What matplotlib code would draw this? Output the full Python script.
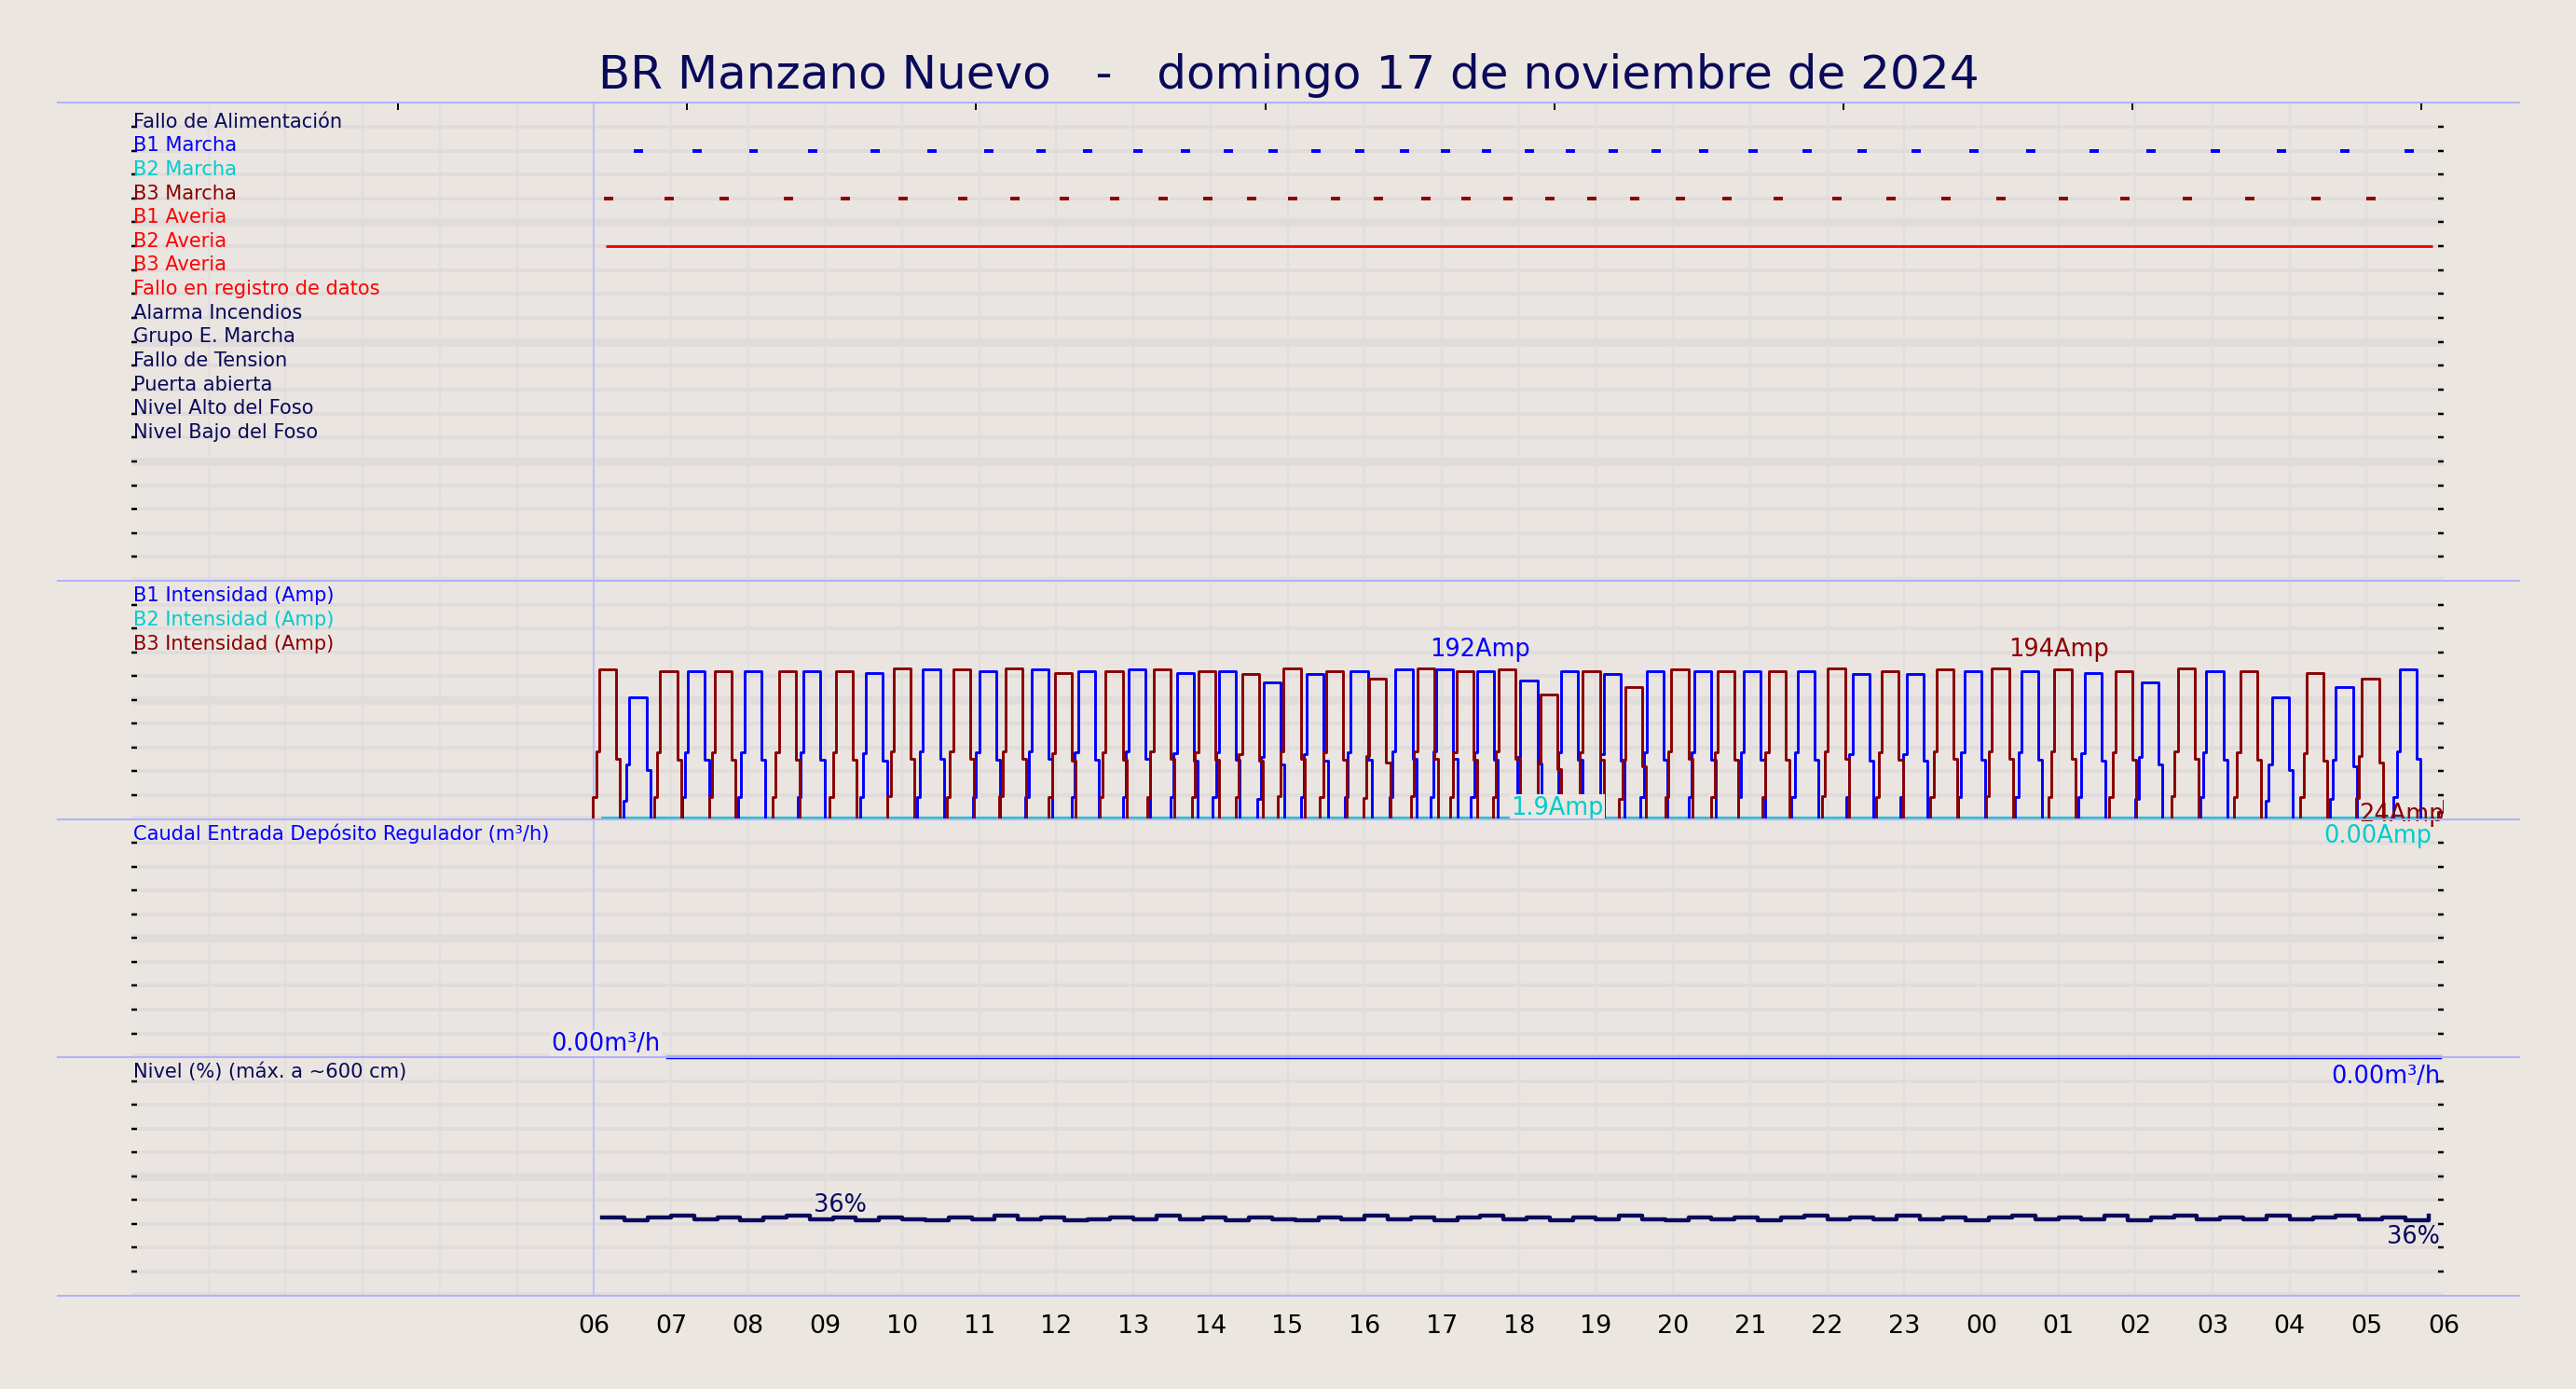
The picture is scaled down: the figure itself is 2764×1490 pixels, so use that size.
import numpy as np
import matplotlib.pyplot as plt

# ---- data (hours since 00:00 of the day, 24 = midnight) ----
title = "BR Manzano Nuevo   -   domingo 17 de noviembre de 2024"

signal_labels = ["Fallo de Alimentación", "B1 Marcha", "B2 Marcha", "B3 Marcha",
                 "B1 Averia", "B2 Averia", "B3 Averia", "Fallo en registro de datos",
                 "Alarma Incendios", "Grupo E. Marcha", "Fallo de Tension",
                 "Puerta abierta", "Nivel Alto del Foso", "Nivel Bajo del Foso"]
signal_colors = ["#0a0a5a", "#0000ff", "#00cccc", "#8b0000", "#ff0000", "#ff0000",
                 "#ff0000", "#ff0000", "#0a0a5a", "#0a0a5a", "#0a0a5a", "#0a0a5a",
                 "#0a0a5a", "#0a0a5a"]

b1_starts = [6.58, 7.34, 8.07, 8.84, 9.65, 10.39, 11.12, 11.80, 12.40, 13.06, 13.68, 14.23,
             14.81, 15.37, 15.94, 16.52, 17.05, 17.58, 18.14, 18.67, 19.22, 19.78, 20.40,
             21.04, 21.74, 22.45, 23.15, 23.90, 24.64, 25.46, 26.20, 27.04, 27.89, 28.72, 29.55]
b1_peaks = [156, 190, 190, 190, 188, 192, 190, 192, 190, 192, 188, 190,
            176, 186, 190, 192, 192, 190, 178, 190, 186, 190, 190,
            190, 190, 186, 186, 190, 190, 188, 176, 190, 156, 170, 192]
b3_starts = [6.19, 6.98, 7.69, 8.52, 9.26, 10.01, 10.78, 11.46, 12.10, 12.76, 13.38, 13.96,
             14.53, 15.07, 15.62, 16.18, 16.80, 17.31, 17.86, 18.40, 18.95, 19.50, 20.10,
             20.70, 21.36, 22.13, 22.83, 23.54, 24.26, 25.07, 25.86, 26.67, 27.48, 28.34, 29.06]
b3_peaks = [192, 190, 190, 190, 190, 194, 192, 194, 188, 190, 192, 190,
            186, 194, 190, 180, 194, 190, 192, 160, 190, 170, 192,
            190, 190, 194, 190, 192, 194, 192, 190, 194, 190, 188, 180]
b3_last = 24
b2_value = 1.9
averia_b2 = (6.15, 29.85)

flow_value = 0.0

level_times = np.arange(6.1, 29.95, 0.3)
level_values = [35, 33.5, 35, 35.5, 34, 35, 33.5, 35, 35.5, 34, 35, 33.5, 35, 34, 33.5, 35, 34, 35.5,
                34, 35, 33.5, 34, 35, 34, 35.5, 34, 35, 33.5, 35, 34, 33.5, 35, 34, 35.5, 34, 35,
                33.5, 35, 35.5, 34, 35, 33.5, 35, 34, 35.5, 34, 33.5, 35, 34, 35, 33.5, 35, 35.5, 34,
                35, 34, 35.5, 34, 35, 33.5, 35, 35.5, 34, 35, 34, 35.5, 33.5, 35, 35.5, 34, 35, 34,
                35.5, 34, 35, 35.5, 34, 35, 33.5, 35.5]
level_label = 36

hour_ticks = list(range(6, 31))
hour_labels = ["%02d" % (h % 24) for h in hour_ticks]

# ---- style ----
bg = "#ebe6e0"
navy = "#0a0a5a"
plt.rcParams["font.family"] = "DejaVu Sans"

fig = plt.figure(figsize=(15.71, 8.47), dpi=176, facecolor=bg)
left, right = 80 / 1568, 1487 / 1568
bounds = [63, 354, 499, 644, 789]
axes = []
for i in range(4):
    top = 1 - bounds[i] / 846
    bot = 1 - bounds[i + 1] / 846
    ax = fig.add_axes([left, bot, right - left, top - bot], facecolor="#eae5e0")
    ax.set_zorder(10 - i)  # labels may spill into the panel below
    ax.set_xlim(0, 30)
    for s in ax.spines.values():
        s.set_visible(False)
    ax.tick_params(axis="x", length=0, labelbottom=False)
    for x in range(1, 30):
        ax.axvline(x, color="#e2dede", lw=1, zorder=0)
    ax.axvline(6, color="#c0c0ff", lw=0.8, zorder=1)
    axes.append(ax)

def setup_rows(ax, n, ymax):
    ax.set_ylim(0, ymax)
    ys = np.linspace(0, ymax, n + 1)
    for k, y in enumerate(ys[:-1]):
        heavy = (n - k) % 5 == 0
        ax.axhline(y, color="#e0dcdc", lw=3.5 if heavy else 1.6, zorder=0)
    ax.set_yticks(ys[1:-1])
    ax.tick_params(axis="y", left=True, right=True, direction="in", length=2.5,
                   width=1, color="black", labelleft=False)

FS = 8.6
# top: digital signals
ax = axes[0]
setup_rows(ax, 20, 20)
for i, (lab, col) in enumerate(zip(signal_labels, signal_colors)):
    ax.text(0.02, 19.0 - i, lab, color=col, fontsize=FS, va="baseline")
ax.hlines([18] * len(b1_starts), np.array(b1_starts) - 0.06, np.array(b1_starts) + 0.06,
          color="#0000ff", lw=1.6)
ax.hlines([16] * len(b3_starts), np.array(b3_starts) - 0.06, np.array(b3_starts) + 0.06,
          color="#8b0000", lw=1.6)
ax.hlines(14, *averia_b2, color="#ff0000", lw=1.2)
for x in np.arange(3.46, 30, 3.75):
    ax.plot([x, x], [19.75, 20], color="black", lw=0.8)

# intensities
def current_curve(starts, peaks):
    t, v = [6.1], [0]
    for c, p in zip(starts, peaks):
        t += [c - 0.2, c - 0.16, c - 0.12, c + 0.1, c + 0.15]
        v += [0.15 * p, 0.45 * p, p, 0.4 * p, 0]
    return t, v

ax = axes[1]
setup_rows(ax, 10, 306)
for j, (lab, col) in enumerate([("B1 Intensidad (Amp)", "#0000ff"),
                                ("B2 Intensidad (Amp)", "#00cccc"),
                                ("B3 Intensidad (Amp)", "#8b0000")]):
    ax.text(0.02, 306 * (1 - (0.85 + j) / 10), lab, color=col, fontsize=FS, va="baseline")
ax.plot([6.1, 29.9], [b2_value, b2_value], color="#00cccc", lw=1.2, zorder=2)
t, v = current_curve(b1_starts, b1_peaks)
ax.step(t, v, where="post", color="#0000ff", lw=1.2, zorder=3)
t, v = current_curve(b3_starts, b3_peaks)
t += [29.92, 30]
v += [b3_last * 0.4, b3_last]
ax.step(t, v, where="post", color="#8b0000", lw=1.2, zorder=4)
ax.text(17.5, 198 + 12, "%dAmp" % max(b1_peaks[:20]), color="#0000ff", fontsize=10.5, ha="center")
ax.text(25.0, 198 + 12, "%dAmp" % max(b3_peaks), color="#8b0000", fontsize=10.5, ha="center")
ax.text(18.5, 6, "%.1fAmp" % b2_value, color="#00cccc", fontsize=10.5, ha="center",
        bbox=dict(facecolor="#ebe6e0", edgecolor="none", pad=0.5), zorder=6)
ax.text(30, -2, "%dAmp" % b3_last, color="#8b0000", fontsize=10.5, ha="right", zorder=6)
ax.text(29.85, -6, "0.00Amp", color="#00cccc", fontsize=10.5, ha="right", va="top",
        clip_on=False, zorder=6)

# flow
ax = axes[2]
setup_rows(ax, 10, 10)
ax.text(0.02, 10 * (1 - 0.85 / 10), "Caudal Entrada Depósito Regulador (m³/h)", color="#0000ff",
        fontsize=FS, va="baseline")
ax.plot([6.95, 29.95], [flow_value, flow_value], color="#0000ff", lw=1.4, clip_on=False, zorder=5)
ax.text(6.15, flow_value + 0.3, "%.2fm³/h" % flow_value, color="#0000ff", fontsize=10.5,
        ha="center", bbox=dict(facecolor=bg, edgecolor="none", pad=0.5), zorder=6)
ax.text(29.95, flow_value - 0.3, "%.2fm³/h" % flow_value, color="#0000ff", fontsize=10.5,
        ha="right", va="top", clip_on=False, zorder=6)

# level
ax = axes[3]
setup_rows(ax, 10, 106.5)
ax.text(0.02, 106.5 * (1 - 0.85 / 10), "Nivel (%) (máx. a ~600 cm)", color=navy,
        fontsize=FS, va="baseline")
ax.step(level_times, level_values, where="post", color=navy, lw=1.8)
ax.text(9.2, 37.5, "%d%%" % level_label, color=navy, fontsize=10.5, ha="center")
ax.text(29.95, 32, "%d%%" % level_label, color=navy, fontsize=10.5, ha="right", va="top")
ax.set_xticks(hour_ticks)
ax.set_xticklabels(hour_labels, fontsize=11)
ax.tick_params(axis="x", labelbottom=True, length=0, pad=8)

# separators and title
for b in bounds:
    y = 1 - b / 846
    fig.add_artist(plt.Line2D([35 / 1568, 1533 / 1568], [y, y], color="#b0b0ff", lw=0.8,
                              zorder=50))
fig.text(0.5, 1 - 46 / 846, title, color=navy, fontsize=20.5, ha="center", va="center")

fig.savefig("out.png", dpi=176, facecolor=bg)
